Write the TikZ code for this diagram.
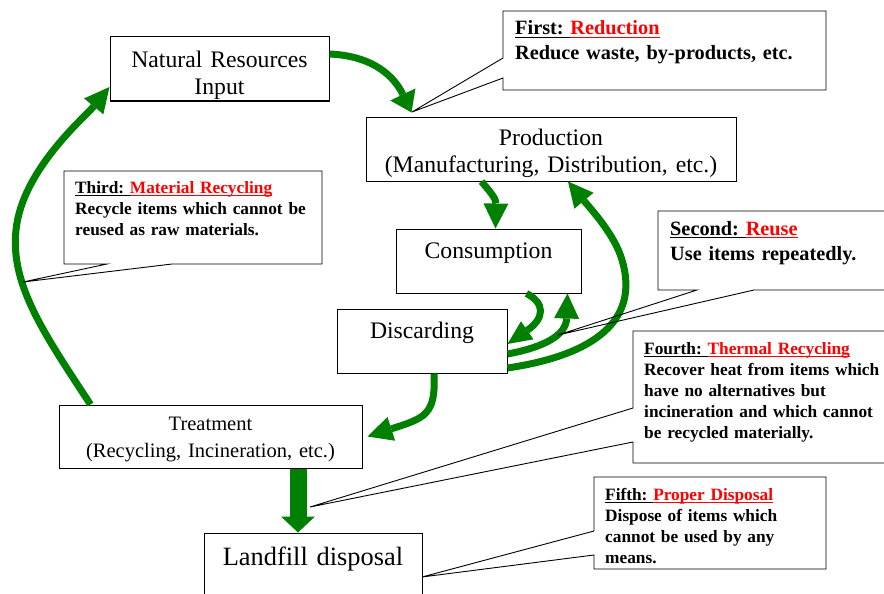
\documentclass[tikz,border=0pt]{standalone}
\usepackage{fontspec}
\setmainfont{Liberation Serif}
\usetikzlibrary{arrows.meta}

\definecolor{flowgreen}{RGB}{0,128,0}
\newlength{\ulwd}
\newcommand{\undl}[1]{\settowidth{\ulwd}{#1}\rlap{\rule[-3pt]{\ulwd}{1.2pt}}#1}
\newcommand{\boxfont}{\fontsize{23.7pt}{27.5pt}\selectfont}
\newcommand{\treatfont}{\fontsize{20.5pt}{27pt}\selectfont}
\newcommand{\landfont}{\fontsize{26.4pt}{30pt}\selectfont}
\newcommand{\calloutbig}{\bfseries\fontsize{20.3pt}{25pt}\selectfont}
\newcommand{\calloutsmall}{\bfseries\fontsize{17.3pt}{21pt}\selectfont}

\tikzstyle{block} = [rectangle, draw, line width=1pt, inner sep=0pt, align=center]
\tikzstyle{note} = [anchor=base west, inner sep=0pt, align=left]
\tikzstyle{balloon} = [draw, line width=0.9pt]
\tikzstyle{flow} = [draw=flowgreen, line width=7pt,
    -{Triangle[length=25pt,width=25pt,line width=0pt]}]

\begin{document}
\begin{tikzpicture}[x=1pt,y=-1pt]
  \useasboundingbox (0,0) rectangle (884,594);

  % the cycle
  \node[block, text width=219pt, text height=30pt, text depth=34pt, font=\boxfont]
      (nr) at (219.5,69) {Natural Resources\\Input};
  \node[block, text width=370pt, text height=28pt, text depth=36pt, font=\boxfont]
      (prod) at (551,149) {Production\\(Manufacturing, Distribution, etc.)};
  \node[block, text width=185pt, text height=29pt, text depth=35pt, font=\boxfont]
      (cons) at (488.5,261) {Consumption};
  \node[block, text width=170pt, text height=29pt, text depth=35pt, font=\boxfont]
      (disc) at (422,341) {Discarding};
  \node[block, text width=303pt, text height=25pt, text depth=38pt, font=\treatfont]
      (treat) at (210.5,436.5) {Treatment\\(Recycling, Incineration, etc.)};
  \node[block, text width=218pt, text height=32pt, text depth=35pt, font=\landfont]
      (land) at (313,566.5) {Landfill disposal};

  \draw[flow, -{Triangle[length=20pt,width=28pt,line width=0pt]}]
      ([yshift=15pt]nr.east) .. controls (375,56) and (395,78) .. ([xshift=46pt,yshift=4pt]prod.north west);
  \draw[flow] ([xshift=32pt]treat.north west) .. controls (45,335) and (10,285) .. (16,230)
      .. controls (22,170) and (85,117) .. ([yshift=-18pt]nr.west);
  \draw[flow] ([xshift=116pt]prod.south west) .. controls (490,192) and (496,198) .. ([xshift=100pt]cons.north west);
  \draw[flow, -{Triangle[length=24pt,width=22pt,line width=0pt]}]
      ([xshift=131pt]cons.south west) .. controls (545,303) and (545,318) .. ([yshift=-3pt]disc.east);
  \draw[flow] ([yshift=-13pt]disc.east) .. controls (545,347) and (566,335) .. ([xshift=-14pt]cons.south east);
  \draw[flow] ([yshift=-27pt]disc.east) .. controls (595,355) and (640,320) .. (622,260)
      .. controls (615,235) and (590,208) .. ([xshift=17pt]prod.south);
  \draw[flow] ([xshift=12pt]disc.south) .. controls (436,415) and (425,418) .. ([xshift=5pt]treat.east);
  \draw[flow, line width=17pt, -{Triangle[length=16pt,width=34pt,line width=0pt]}]
      ([xshift=87.5pt]treat.south) -- ([xshift=-15pt]land.north);

  % the five steps
  \coordinate (firsttip) at (412,112);
  \coordinate (secondtip) at (558,335);
  \coordinate (thirdtip) at (23,282);
  \coordinate (fourthtip) at (310,507);
  \coordinate (fifthtip) at (422,577);

  \draw[balloon] (503,11) -- (826,11) -- (826,90) -- (503,90) -- (503,78) -- (firsttip) -- (503,58) -- cycle;
  \node[note, text width=320pt, font=\calloutbig] (first) at (515,35)
      {\undl{First:\ }\textcolor{red}{\undl{Reduction}}\\Reduce waste, by-products, etc.};

  \draw[balloon] (658,211) -- (887,211) -- (887,290) -- (754,290) -- (secondtip) -- (697,290) -- (658,290) -- cycle;
  \node[note, text width=220pt, font=\calloutbig] (second) at (670,235)
      {\undl{Second:\ }\textcolor{red}{\undl{Reuse}}\\Use items repeatedly.};

  \draw[balloon] (64,171) -- (322,171) -- (322,264) -- (172,264) -- (thirdtip) -- (107,264) -- (64,264) -- cycle;
  \node[note, text width=245pt, font=\calloutsmall] (third) at (75,193)
      {\undl{Third:\ }\textcolor{red}{\undl{Material Recycling}}\\Recycle items which cannot be\\reused as raw materials.};

  \draw[balloon] (633,331) -- (887,331) -- (887,463) -- (633,463) -- (633,442) -- (fourthtip) -- (633,408) -- cycle;
  \node[note, text width=245pt, font=\calloutsmall] (fourth) at (644,354)
      {\undl{Fourth:\ }\textcolor{red}{\undl{Thermal Recycling}}\\Recover heat from items which\\have no alternatives but\\incineration and which cannot\\be recycled materially.};

  \draw[balloon] (594,477) -- (826,477) -- (826,569) -- (594,569) -- (594,555) -- (fifthtip) -- (594,531) -- cycle;
  \node[note, text width=220pt, font=\calloutsmall] (fifth) at (605,500)
      {\undl{Fifth:\ }\textcolor{red}{\undl{Proper Disposal}}\\Dispose of items which\\cannot be used by any\\means.};
\end{tikzpicture}
\end{document}
